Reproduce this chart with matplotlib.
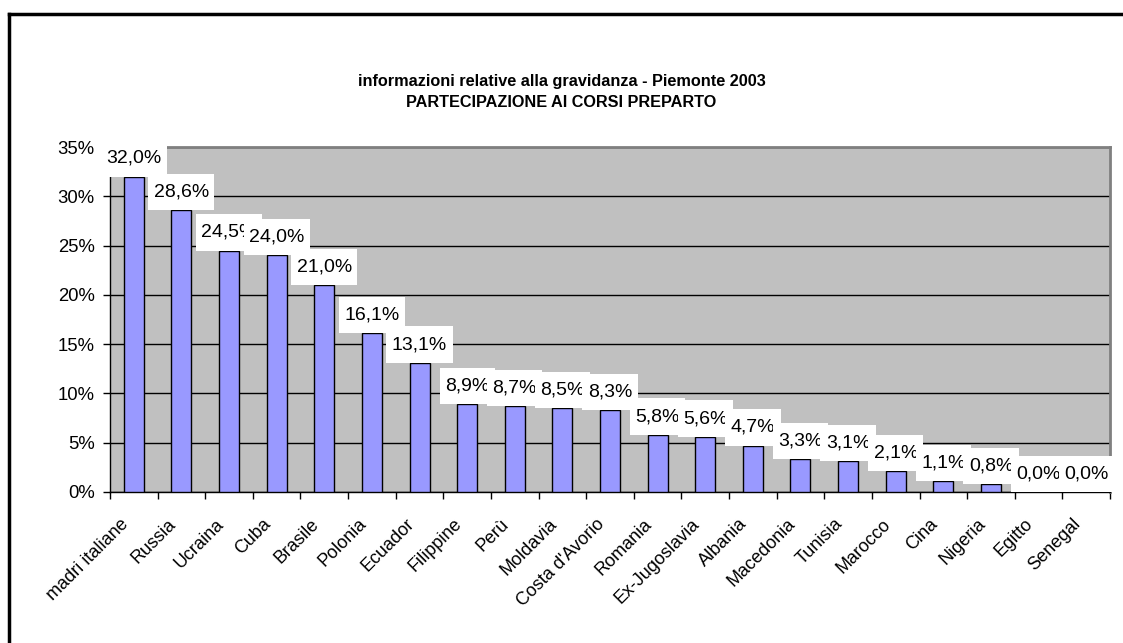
import matplotlib
matplotlib.use("Agg")
import matplotlib.pyplot as plt
from matplotlib.lines import Line2D
from matplotlib.path import Path
from matplotlib.transforms import ScaledTranslation
from matplotlib.ticker import MultipleLocator, FuncFormatter, FixedLocator

plt.rcParams["font.family"] = ["Liberation Sans", "DejaVu Sans"]

paesi = ["madri italiane", "Russia", "Ucraina", "Cuba", "Brasile", "Polonia",
         "Ecuador", "Filippine", "Perù", "Moldavia", "Costa d'Avorio", "Romania",
         "Ex-Jugoslavia", "Albania", "Macedonia", "Tunisia", "Marocco", "Cina",
         "Nigeria", "Egitto", "Senegal"]
percentuali = [32.0, 28.6, 24.5, 24.0, 21.0, 16.1, 13.1, 8.9, 8.7, 8.5, 8.3,
               5.8, 5.6, 4.7, 3.3, 3.1, 2.1, 1.1, 0.8, 0.0, 0.0]

titolo = "informazioni relative alla gravidanza - Piemonte 2003\nPARTECIPAZIONE AI CORSI PREPARTO"


def box_etichetta(x0, y0, width, height, mutation_size):
    # riquadro bianco piu' alto che largo, come nelle etichette di Excel
    px, py = 0.28 * mutation_size, 0.5 * mutation_size
    x0, y0 = x0 - px, y0 - py
    x1, y1 = x0 + width + 2 * px, y0 + height + 2 * py
    return Path([(x0, y0), (x1, y0), (x1, y1), (x0, y1), (x0, y0)], closed=True)


fig = plt.figure(figsize=(11.23, 6.43), dpi=100)
ax = fig.add_axes([110 / 1123, 1 - 492 / 643, 1000 / 1123, 345 / 643])
ax.set_facecolor("#C0C0C0")

x = list(range(len(paesi)))
ax.bar(x, percentuali, width=0.42, color="#9999FF", edgecolor="black",
       linewidth=1, zorder=3)

ax.set_xlim(-0.5, len(paesi) - 0.5)
ax.set_ylim(0, 35)
ax.yaxis.set_major_locator(MultipleLocator(5))
ax.yaxis.set_major_formatter(FuncFormatter(lambda v, p: f"{v:.0f}%"))
ax.grid(axis="y", color="black", linewidth=1, zorder=1)
ax.set_axisbelow(True)

ax.set_xticks(x)
ax.set_xticklabels(paesi, rotation=45, ha="right", va="top",
                   rotation_mode="anchor")
ax.xaxis.set_minor_locator(FixedLocator([i - 0.5 for i in range(len(paesi) + 1)]))
ax.tick_params(axis="x", which="major", length=0, pad=17, labelsize=13)
ax.tick_params(axis="x", which="minor", length=5, width=1, direction="out")
ax.tick_params(axis="y", length=5, width=1, direction="out", labelsize=13.3, pad=6)

# etichette un po' a sinistra del centro della categoria
spost = ScaledTranslation(-14 / 100, 0, fig.dpi_scale_trans)
for t in ax.xaxis.get_major_ticks():
    t.label1.set_transform(t.label1.get_transform() + spost)

for s in ["top", "right"]:
    ax.spines[s].set_color("#808080")
    ax.spines[s].set_linewidth(2)
for s in ["left", "bottom"]:
    ax.spines[s].set_color("black")
    ax.spines[s].set_linewidth(1)

# etichette dei valori con sfondo bianco, ognuna sopra la precedente
for i, v in enumerate(percentuali):
    ax.annotate(f"{v:.1f}%".replace(".", ","), (i, v), xytext=(0, 7),
                textcoords="offset points", ha="center", va="bottom",
                fontsize=14, zorder=10 + i, annotation_clip=False,
                bbox=dict(boxstyle=box_etichetta, facecolor="white",
                          edgecolor="none"))

fig.text(0.5, 1 - 92 / 643, titolo, ha="center", va="center",
         fontsize=11.7, fontweight="bold", linespacing=1.45)

# cornice esterna del grafico
fig.add_artist(Line2D([9 / 1123, 9 / 1123], [0, 1 - 14 / 643], color="black", lw=2.5))
fig.add_artist(Line2D([9 / 1123, 1], [1 - 14 / 643, 1 - 14 / 643], color="black", lw=2.5))

fig.savefig("out.png", dpi=100)
